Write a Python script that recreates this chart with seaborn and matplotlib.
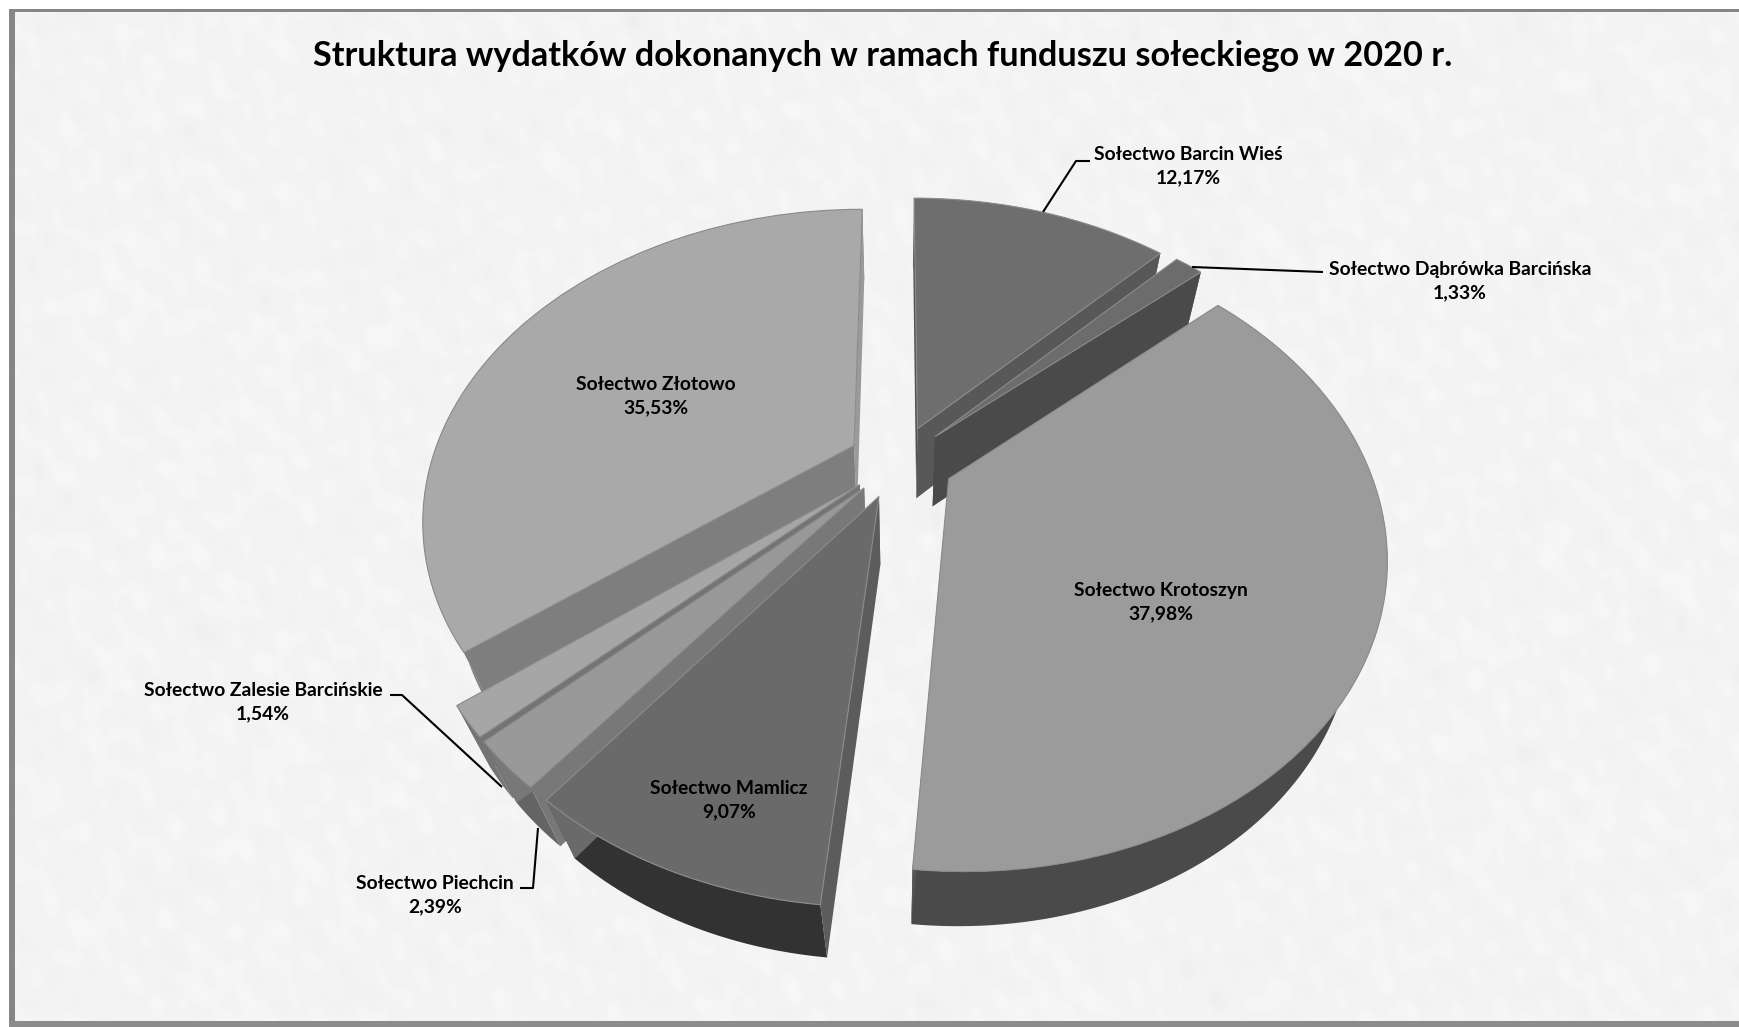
import numpy as np
import matplotlib
matplotlib.use("Agg")
import matplotlib.pyplot as plt
import seaborn as sns
from matplotlib.transforms import Transform

categories = ["Sołectwo Barcin Wieś", "Sołectwo Dąbrówka Barcińska", "Sołectwo Krotoszyn",
              "Sołectwo Mamlicz", "Sołectwo Piechcin", "Sołectwo Zalesie Barcińskie",
              "Sołectwo Złotowo"]
values = [12.17, 1.33, 37.98, 9.07, 2.39, 1.54, 35.53]
labels = ["12,17%", "1,33%", "37,98%", "9,07%", "2,39%", "1,54%", "35,53%"]
title = "Struktura wydatków dokonanych w ramach funduszu sołeckiego w 2020 r."

top_col = ["#6e6e6e", "#6c6c6c", "#9b9b9b", "#6a6a6a", "#999999", "#a6a6a6", "#a9a9a9"]
out_col = ["#5a5a5a", "#505050", "#4a4a4a", "#323232", "#646464", "#747474", "#7c7c7c"]
# radial faces: (clockwise end, counter-clockwise end)
rad_col = [("#585858", "#505050"), ("#4a4a4a", "#4a4a4a"), ("#555555", "#555555"),
           ("#6a6a6a", "#5c5c5c"), ("#787878", "#787878"), ("#747474", "#747474"),
           ("#9a9a9a", "#7e7e7e")]
explode = [0.12, 0.12, 0.13, 0.125, 0.12, 0.12, 0.12]
radii = [1.0, 1.0, 0.99, 1.0, 1.0, 1.0, 1.0]
draw_order = [0, 1, 6, 5, 4, 3, 2]
label_xy = [(1188, 166), (1460, 281), (1161, 602), (729, 800), (435, 895), (263, 702), (656, 396)]
leaders = [[(1043, 212), (1076, 161), (1090, 161)],
           [(1192, 267), (1323, 272)],
           [(390, 695), (402, 695), (502, 787)],
           [(520, 888), (533, 888), (538, 828)]]

XC, YC, A, B, K, T, S = 899.0, 461.0, 422.5, 297.0, 0.23, 0.07, 74.0


def project(u, v, h=0.0):
    u, v = np.asarray(u, float), np.asarray(v, float)
    w = 1 + K * v + T * h
    return XC + A * u / w, YC - (B * v - S * h) / w


class Perspective(Transform):
    input_dims = 2
    output_dims = 2
    is_separable = False
    has_inverse = False

    def transform_non_affine(self, values):
        values = np.asarray(values, float)
        x, y = project(values[:, 0], values[:, 1])
        return np.column_stack([x, y])


sns.set_theme(style="white")
plt.rcParams["font.family"] = ["Lato", "DejaVu Sans"]
fig = plt.figure(figsize=(17.4, 10.27), dpi=100, facecolor="white")
ax = fig.add_axes([0, 0, 1, 1])

wedges, _ = ax.pie(values, explode=explode, radius=1, startangle=90,
                   counterclock=False, colors=top_col,
                   wedgeprops=dict(edgecolor="#8c8c8c", linewidth=0.8))
ax.set_aspect("auto")
proj = Perspective() + ax.transData

for rank, i in enumerate(draw_order):
    wd = wedges[i]
    wd.set_radius(radii[i])
    cx, cy = wd.center
    th = np.radians(np.linspace(wd.theta1, wd.theta2, 120))
    ru, rv = cx + radii[i] * np.cos(th), cy + radii[i] * np.sin(th)
    base = 10 + rank * 5
    tx, ty = project(ru, rv, 0)
    bx, by = project(ru, rv, 1)
    ax.fill(np.r_[tx, bx[::-1]], np.r_[ty, by[::-1]], color=out_col[i], lw=0, zorder=base)
    for end, col in zip((0, -1), rad_col[i]):
        us, vs = [cx, ru[end]], [cy, rv[end]]
        tx, ty = project(us, vs, 0)
        bx, by = project(us, vs, 1)
        ax.fill(np.r_[tx, bx[::-1]], np.r_[ty, by[::-1]], color=col, lw=0, zorder=base + 1)
    wd.set_transform(proj)
    wd.set_clip_on(False)
    wd.set_zorder(base + 2)

# paper-like background: a soft deterministic mottling, not chart data
yy, xx = np.mgrid[0:1027:9, 0:1740:9]
grain = np.modf(np.sin(xx * 12.9898 + yy * 78.233) * 43758.5453)[0]
soft = (grain + np.roll(grain, 1, 0) + np.roll(grain, 1, 1) + np.roll(grain, (1, 1), (0, 1))) / 4
blot = np.clip(np.sin(xx / 47.0 + 0.5) * np.sin(yy / 39.0 + 1.1) - 0.8, 0, 1)
paper = 243.5 + 7.0 * soft - 18.0 * blot * (0.4 + np.abs(soft))
ax.imshow(paper, extent=(0, 1740, 1027, 0), cmap="gray", vmin=0, vmax=255,
          interpolation="bicubic", zorder=0, aspect="auto")
ax.fill([0, 1740, 1740, 0], [0, 0, 9, 9], color="white", lw=0, zorder=1)
ax.fill([0, 9, 9, 0], [0, 0, 1027, 1027], color="white", lw=0, zorder=1)
ax.fill([9, 1740, 1740, 9], [9, 9, 12, 12], color="#868686", lw=0, zorder=2)
ax.fill([9, 15, 15, 9], [9, 9, 1027, 1027], color="#868686", lw=0, zorder=2)
ax.fill([9, 1740, 1740, 9], [1021, 1021, 1027, 1027], color="#8c8c8c", lw=0, zorder=2)

for pts in leaders:
    xs, ys = zip(*pts)
    ax.plot(xs, ys, color="black", lw=1.5, zorder=60, solid_capstyle="butt")

ax.text(883, 56, title, ha="center", va="center", fontsize=24.7, fontweight="bold",
        color="black", zorder=70)
for name, pct, (x, y) in zip(categories, labels, label_xy):
    ax.text(x, y, f"{name}\n{pct}", ha="center", va="center", fontsize=13.9, fontweight="bold",
            color="black", linespacing=1.45, zorder=70)

ax.set_xlim(0, 1740)
ax.set_ylim(1027, 0)
ax.set_axis_off()
fig.savefig("out.png", dpi=100, facecolor="white")
